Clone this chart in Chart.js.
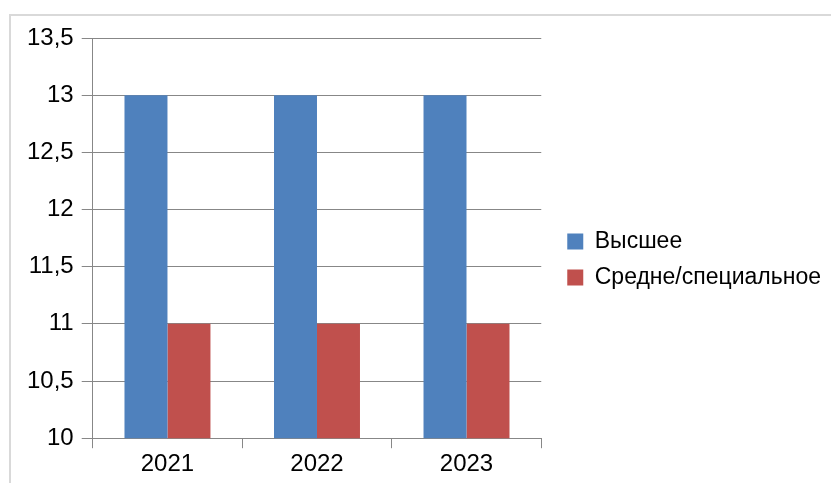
<!DOCTYPE html>
<html>
<head>
<meta charset="utf-8">
<script src="https://cdn.jsdelivr.net/npm/chart.js@4"></script>
<style>
  html, body { margin: 0; padding: 0; background: #fff; }
  body { width: 831px; height: 483px; position: relative; overflow: hidden; }
  #frame { position: absolute; left: 9px; top: 14px; width: 900px; height: 600px; border: 2px solid #D9D9D9; box-sizing: border-box; }
  #wrap { position: absolute; left: 0; top: 0; width: 831px; height: 483px; }
</style>
</head>
<body>
<div id="frame"></div>
<div id="wrap"><canvas id="c" width="831" height="483"></canvas></div>
<script>
const categories = ['2021', '2022', '2023'];
const seriesNames = ['Высшее', 'Средне/специальное'];
const higher = [13, 13, 13];
const secondary = [11, 11, 11];
const yTicks = [10, 10.5, 11, 11.5, 12, 12.5, 13, 13.5];

const FONT = { family: 'Liberation Sans', size: 24 };
const LEGEND_FONT = { family: 'Liberation Sans', size: 23 };
const AXIS = '#878787';

new Chart(document.getElementById('c'), {
  type: 'bar',
  data: {
    labels: categories,
    datasets: [
      { label: seriesNames[0], data: higher, backgroundColor: '#4F81BD', borderWidth: 0 },
      { label: seriesNames[1], data: secondary, backgroundColor: '#C0504D', borderWidth: 0 }
    ]
  },
  options: {
    responsive: false,
    animation: false,
    devicePixelRatio: 1,
    layout: { padding: { left: 19, top: 38, right: 0, bottom: 2 } },
    datasets: { bar: { barPercentage: 1, categoryPercentage: 0.575 } },
    scales: {
      x: {
        grid: { offset: true, drawOnChartArea: false, drawTicks: true, tickLength: 10, color: AXIS },
        border: { display: true, color: AXIS, width: 1 },
        ticks: { color: '#000', font: FONT, padding: 2 }
      },
      y: {
        min: 10, max: 13.5,
        afterBuildTicks: (axis) => { axis.ticks = yTicks.map(v => ({ value: v })); },
        grid: { color: AXIS, tickLength: 11, drawTicks: true },
        border: { display: true, color: AXIS, width: 1 },
        ticks: {
          color: '#000', font: FONT, padding: 8,
          callback: (v) => String(v).replace('.', ',')
        }
      },
      gap: {
        position: 'right',
        display: true,
        grid: { display: false },
        border: { display: false },
        ticks: { display: false },
        afterFit: (s) => { s.width = 13; }
      }
    },
    plugins: {
      tooltip: { enabled: false },
      legend: {
        position: 'right',
        align: 'center',
        maxWidth: 400,
        labels: { color: '#000', font: LEGEND_FONT, boxWidth: 16, boxHeight: 16, padding: 13 }
      }
    }
  }
});
</script>
</body>
</html>
